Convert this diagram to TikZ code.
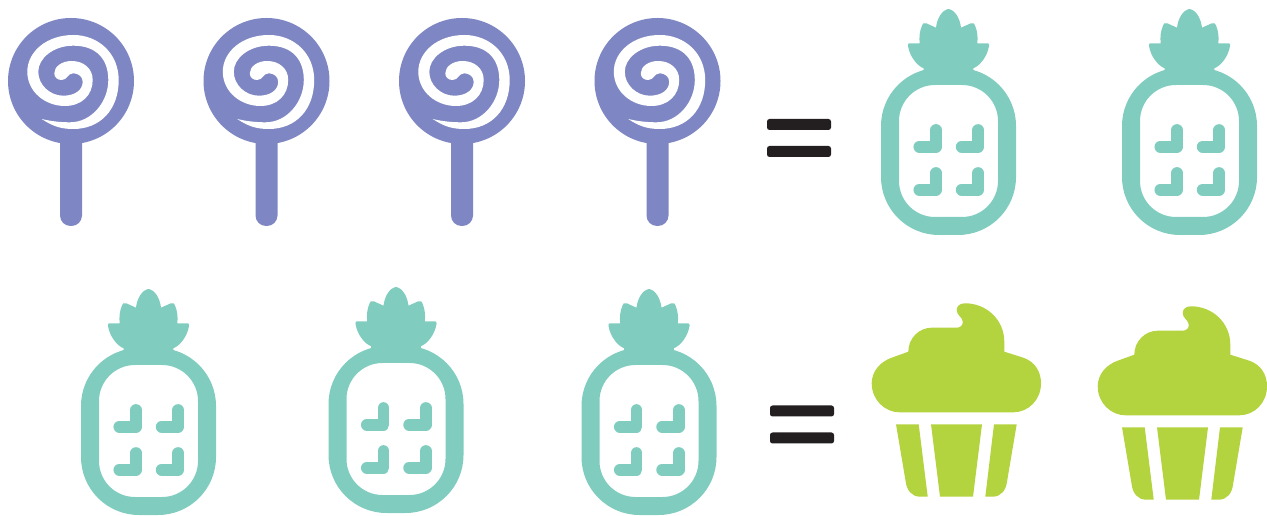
\documentclass[tikz,border=0pt]{standalone}
\usepackage{xcolor}
\definecolor{candy}{HTML}{7E87C3}
\definecolor{fruit}{HTML}{80CDBF}
\definecolor{muffin}{HTML}{B3D33F}
\definecolor{ink}{HTML}{231F20}
\tikzset{
  lollipop/.pic={
    \fill[candy] (0,0) circle (63);
    \fill[candy,rounded corners=0.21cm] (-11,50) -- (-11,145) -- (11,145) -- (11,50) -- cycle;
    \fill[white] (-29.3,38) .. controls (-17.7,45.7) and (-9.3,48) .. (2.3,48)
      .. controls (29,48) and (47.7,29) .. (47.7,-1)
      .. controls (47.7,-27.7) and (27.3,-46) .. (2.3,-46)
      .. controls (-24.3,-46) and (-43.7,-29.3) .. (-43.7,-9.3)
      .. controls (-43.7,10.7) and (-26,25) .. (-6,25)
      .. controls (10.7,25) and (21.7,14) .. (21.7,-1)
      .. controls (21.7,-12.7) and (12.3,-20) .. (.7,-20)
      .. controls (-9.3,-20) and (-16.7,-14.3) .. (-16.7,-7.7)
      .. controls (-16.7,-3.7) and (-13.7,-1) .. (-9.3,-1)
      .. controls (-3.7,-1) and (-3.3,-7.7) .. (2.3,-7.7)
      .. controls (7.3,-7.7) and (11.7,-4.3) .. (11.7,.7)
      .. controls (11.7,9) and (4,14.7) .. (-7.7,14.7)
      .. controls (-21,14.7) and (-32.7,4) .. (-32.7,-9.3)
      .. controls (-32.7,-22.7) and (-17.7,-35.3) .. (2.3,-35.3)
      .. controls (26.3,-35.3) and (37.3,-21) .. (37.3,-1)
      .. controls (37.3,20.7) and (20.7,41.3) .. (-1,41.3)
      .. controls (-12,41.3) and (-21,40) .. (-29.3,38) -- cycle;
  },
  pineapple/.pic={
    \fill[fruit] (0,-142.5) .. controls (6.5,-141.5) and (11.5,-133) .. (12.5,-123.8)
      -- (22.2,-128.2) .. controls (25,-129) and (26,-128) .. (26.5,-126)
      .. controls (29,-120) and (29.5,-114) .. (28.8,-108.2)
      -- (38.8,-108.2) .. controls (40.5,-108.2) and (41,-107.5) .. (40.5,-105.5)
      .. controls (38.8,-95) and (31.5,-85.8) .. (24.8,-83.2) -- (24.8,-70) -- (-24.8,-70) -- (-24.8,-83.2)
      .. controls (-31.5,-85.8) and (-38.8,-95) .. (-40.5,-105.5)
      .. controls (-41,-107.5) and (-40.5,-108.2) .. (-38.8,-108.2)
      -- (-28.8,-108.2) .. controls (-29.5,-114) and (-29,-120) .. (-26.5,-126)
      .. controls (-26,-128) and (-25,-129) .. (-22.2,-128.2)
      -- (-12.5,-123.8) .. controls (-11.5,-133) and (-6.5,-141.5) .. (0,-142.5) -- cycle;
    \fill[fruit,even odd rule] [rounded corners=1.16cm] (-67.5,-83.5) rectangle (67.5,83.5)
      [rounded corners=0.72cm] (-49.5,-66.5) rectangle (49.5,65.5);
    \foreach \dx in {0,42.3}
      \foreach \dy in {0,43}
        \draw[fruit,line width=0.234cm,line cap=round,line join=round]
          (-12.5+\dx,-21.5+\dy) -- (-12.5+\dx,-4.8+\dy) -- (-29.2+\dx,-4.8+\dy);
  },
  cupcake/.pic={
    \fill[muffin] (8,-96.7) .. controls (29.7,-96.7) and (47.3,-80) .. (47.3,-58.3)
      -- (47.3,-48.3)
      -- (66.3,-42.3) .. controls (78,-38.3) and (84,-28.3) .. (84,-16.7)
      .. controls (84,0) and (71.3,12.3) .. (56.3,12.3)
      -- (-57.7,12.3) .. controls (-72,12.3) and (-85.3,0) .. (-85.3,-16.7)
      .. controls (-85.3,-28.3) and (-77,-38.3) .. (-65.3,-42.3)
      -- (-48.7,-48.3) .. controls (-48.7,-61.7) and (-38,-72.3) .. (-25.3,-72.3)
      -- (-.3,-72.3) .. controls (3.7,-72.3) and (6.3,-75) .. (5.7,-79)
      .. controls (4.7,-83.3) and (-.3,-85) .. (-.3,-90)
      .. controls (-.3,-94) and (3,-96.7) .. (8,-96.7) -- cycle;
    \fill[muffin] (-61,24.3) -- (-38.3,24.3) -- (-29.3,96.7) -- (-37,96.7)
      .. controls (-45.3,96.7) and (-50.3,90) .. (-51.3,81.7) -- cycle;
    \fill[muffin] (-26,24.3) -- (25,24.3) -- (16,96.7) -- (-17,96.7) -- cycle;
    \fill[muffin] (37,24.3) -- (59.7,24.3) -- (50,81.7)
      .. controls (49,90) and (44,96.7) .. (35.7,96.7) -- (28.3,96.7) -- cycle;
  },
  equalsign/.pic={
    \fill[ink,rounded corners=0.05cm] (-32,-19) rectangle (32,-8);
    \fill[ink,rounded corners=0.05cm] (-32,8) rectangle (32,19);
  }
}
\begin{document}
\begin{tikzpicture}[x=0.02cm,y=-0.02cm]
\useasboundingbox (0,0) rectangle (1267,516);
% first row
\foreach \x in {71,266.5,462,657.5}
  \pic at (\x,81) {lollipop};
\pic at (799,138) {equalsign};
\pic at (948.5,151.5) {pineapple};
\pic at (1189.5,151.5) {pineapple};
% second row
\pic at (148.5,431.5) {pineapple};
\pic at (396,429.5) {pineapple};
\pic at (649,431.5) {pineapple};
\pic at (802,424.5) {equalsign};
\pic at (957,400) {cupcake};
\pic at (1183,403) {cupcake};
\end{tikzpicture}
\end{document}
